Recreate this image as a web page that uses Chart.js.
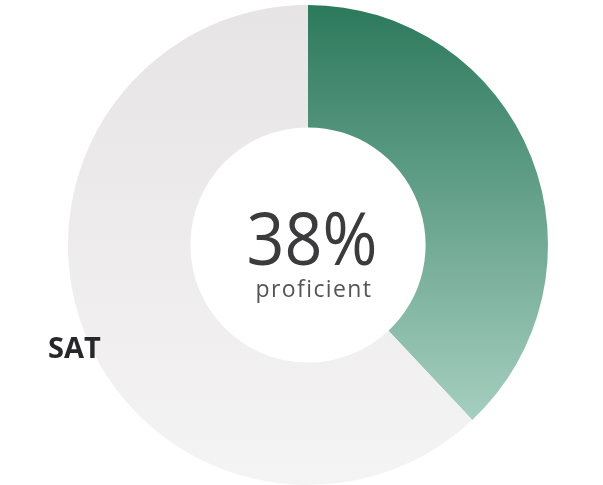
<!DOCTYPE html>
<html>
<head>
<meta charset="utf-8">
<script src="https://cdn.jsdelivr.net/npm/chart.js@4/dist/chart.umd.min.js"></script>
<style>
  html,body{margin:0;padding:0;background:#fff;}
  #wrap{position:relative;width:603px;height:485px;}
</style>
</head>
<body>
<div id="wrap"><canvas id="c" width="603" height="485"></canvas></div>
<script>
const labels = ['proficient', 'not proficient'];
const values = [38, 62];
const centerLabel = 'proficient';
const sideLabel = 'SAT';

// vertical gradients for the two slices
const fillFor = (c) => {
  const ch = c.chart, area = ch.chartArea;
  if (!area) return '#ddd';
  const g = ch.ctx.createLinearGradient(0, area.top, 0, area.bottom);
  if (c.dataIndex === 0) {
    g.addColorStop(0, '#2c795c');
    g.addColorStop(0.88, '#a8d0c2');
    g.addColorStop(1, '#b5d8cb');
  } else {
    g.addColorStop(0, '#e6e4e4');
    g.addColorStop(1, '#f5f4f5');
  }
  return g;
};

const centerText = {
  id: 'centerText',
  afterDraw(chart) {
    const { ctx } = chart;
    const meta = chart.getDatasetMeta(0).data[0];
    const x = meta.x, y = meta.y;
    ctx.save();
    ctx.textAlign = 'center';
    ctx.textBaseline = 'alphabetic';
    // big percentage, slightly condensed
    ctx.save();
    ctx.translate(x + 4, y + 20);
    ctx.scale(0.91, 1);
    ctx.fillStyle = '#3b3a3c';
    ctx.font = '400 73px "Open Sans"';
    ctx.fillText(values[0] + '%', 0, 0);
    ctx.restore();
    ctx.fillStyle = '#555458';
    ctx.font = '400 23px "Open Sans"';
    ctx.letterSpacing = '1.4px';
    ctx.fillText(centerLabel, x + 6, y + 52);
    ctx.letterSpacing = '0px';
    ctx.textAlign = 'left';
    ctx.fillStyle = '#27262a';
    ctx.font = '700 29px "Open Sans"';
    ctx.fillText(sideLabel, 48, 358);
    ctx.restore();
  }
};

new Chart(document.getElementById('c').getContext('2d'), {
  type: 'doughnut',
  data: {
    labels: labels,
    datasets: [{ data: values, backgroundColor: fillFor, borderWidth: 0, hoverOffset: 0 }]
  },
  options: {
    responsive: false,
    animation: false,
    cutout: '49%',
    layout: { padding: { left: 68, right: 55, top: 5, bottom: 0 } },
    plugins: { legend: { display: false }, tooltip: { enabled: false } }
  },
  plugins: [centerText]
});
</script>
</body>
</html>
